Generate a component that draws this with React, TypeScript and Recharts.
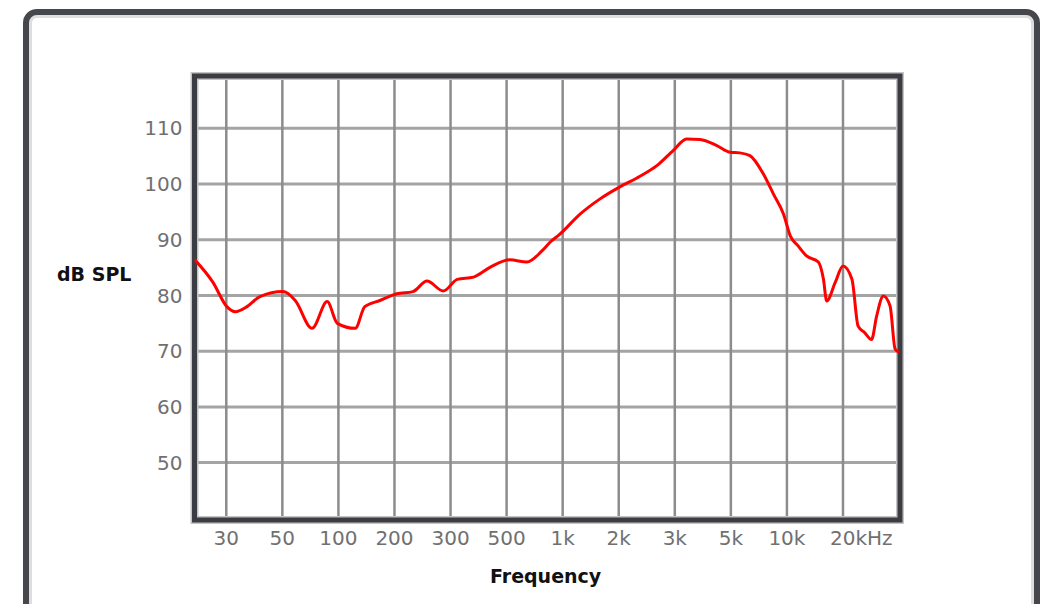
import React from "react";
import {
  LineChart,
  Line,
  XAxis,
  YAxis,
  CartesianGrid,
  ReferenceArea,
} from "recharts";

// x position on the (evenly spaced) frequency axis: 30 Hz = 1 ... 20 kHz = 12
const freqPos = [
  0.43, 0.76, 1.01, 1.16, 1.37, 1.6, 2.01, 2.23, 2.53, 2.8, 2.98, 3.3, 3.47,
  3.74, 4.04, 4.33, 4.58, 4.87, 5.12, 5.41, 5.71, 6.06, 6.36, 6.63, 6.78, 6.95,
  7.31, 7.66, 8.02, 8.38, 8.68, 8.97, 9.21, 9.45, 9.75, 9.99, 10.16, 10.34,
  10.58, 10.76, 10.94, 11.06, 11.2, 11.35, 11.56, 11.65, 11.71, 11.86, 12.0,
  12.16, 12.27, 12.39, 12.51, 12.6, 12.72, 12.84, 12.93, 13.0,
];
const splDb = [
  86.5, 82.4, 78.0, 77.1, 78.0, 79.8, 80.7, 79.1, 74.1, 78.9, 75.0, 74.1, 78.0,
  79.1, 80.3, 80.7, 82.6, 80.8, 82.9, 83.3, 85.1, 86.4, 86.0, 88.0, 89.6, 91.0,
  94.6, 97.3, 99.5, 101.4, 103.3, 106.0, 108.1, 108.0, 106.9, 105.7, 105.6,
  105.1, 101.8, 98.2, 94.6, 90.7, 88.9, 87.1, 86.0, 83.0, 79.0, 82.3, 85.3,
  82.9, 74.5, 73.3, 72.1, 76.3, 79.9, 78.1, 70.4, 69.8,
];

const freqTicks = [1, 2, 3, 4, 5, 6, 7, 8, 9, 10, 11, 12];
const freqLabels = ["30", "50", "100", "200", "300", "500", "1k", "2k", "3k", "5k", "10k", "20kHz"];
const splTicks = [50, 60, 70, 80, 90, 100, 110];

const data = freqPos.map((pos, i) => ({ pos, spl: splDb[i] }));

const xDomain: [number, number] = [0.433, 13.017];
const yDomain: [number, number] = [39.7, 119.4];

const FreqTick = (props: any) => {
  const { x, y, payload } = props;
  const label = freqLabels[freqTicks.indexOf(payload.value)];
  const last = label === "20kHz";
  return (
    <text
      x={last ? x - 13 : x}
      y={y}
      dy="0.71em"
      textAnchor={last ? "start" : "middle"}
      fill="#707070"
      fontSize={20}
      fontFamily="DejaVu Sans"
    >
      {label}
    </text>
  );
};

export default function App() {
  return (
    <div
      style={{
        position: "fixed",
        left: 0,
        top: 0,
        width: 1046,
        height: 604,
        overflow: "hidden",
        background: "#fff",
      }}
    >
      {/* outer rounded frame */}
      <div
        style={{
          position: "absolute",
          left: 23,
          top: 9,
          width: 1017,
          height: 700,
          boxSizing: "border-box",
          border: "6px solid #46464d",
          borderRadius: 14,
          boxShadow: "inset 0 0 0 3px #dedede",
        }}
      />
      <div style={{ position: "absolute", left: 0, top: 0 }}>
        <LineChart
          width={1046}
          height={604}
          data={data}
          margin={{ top: 76, right: 146, left: 134.5, bottom: 54 }}
        >
          <CartesianGrid horizontal={true} vertical={false} stroke="#a4a4a4" strokeWidth={3} />
          <CartesianGrid horizontal={false} vertical={true} stroke="#8c8c8c" strokeWidth={2.5} />
          <XAxis
            dataKey="pos"
            type="number"
            domain={xDomain}
            ticks={freqTicks}
            allowDataOverflow
            axisLine={false}
            tickLine={false}
            tickSize={6}
            tickMargin={5}
            height={30}
            interval={0}
            tick={<FreqTick />}
          />
          <YAxis
            type="number"
            domain={yDomain}
            ticks={splTicks}
            allowDataOverflow
            axisLine={false}
            tickLine={false}
            tickSize={6}
            tickMargin={6}
            width={60}
            interval={0}
            tick={{ fill: "#707070", fontSize: 20, fontFamily: "DejaVu Sans" }}
          />
          <Line
            type="monotone"
            dataKey="spl"
            stroke="#ff0000"
            strokeWidth={3}
            dot={false}
            isAnimationActive={false}
          />
          <ReferenceArea
            x1={xDomain[0]}
            x2={xDomain[1]}
            y1={yDomain[0]}
            y2={yDomain[1]}
            fill="none"
            stroke="#c4c4c4"
            strokeWidth={8}
          />
          <ReferenceArea
            x1={xDomain[0]}
            x2={xDomain[1]}
            y1={yDomain[0]}
            y2={yDomain[1]}
            fill="none"
            stroke="#3c3c43"
            strokeWidth={5}
          />
        </LineChart>
      </div>
      <div
        style={{
          position: "absolute",
          left: 57,
          top: 263,
          fontFamily: "DejaVu Sans",
          fontWeight: "bold",
          fontSize: 19,
          lineHeight: "22px",
          color: "#111",
          whiteSpace: "nowrap",
        }}
      >
        dB SPL
      </div>
      <div
        style={{
          position: "absolute",
          left: 490,
          top: 565,
          fontFamily: "DejaVu Sans",
          fontWeight: "bold",
          fontSize: 19,
          lineHeight: "22px",
          color: "#111",
          whiteSpace: "nowrap",
        }}
      >
        Frequency
      </div>
    </div>
  );
}
